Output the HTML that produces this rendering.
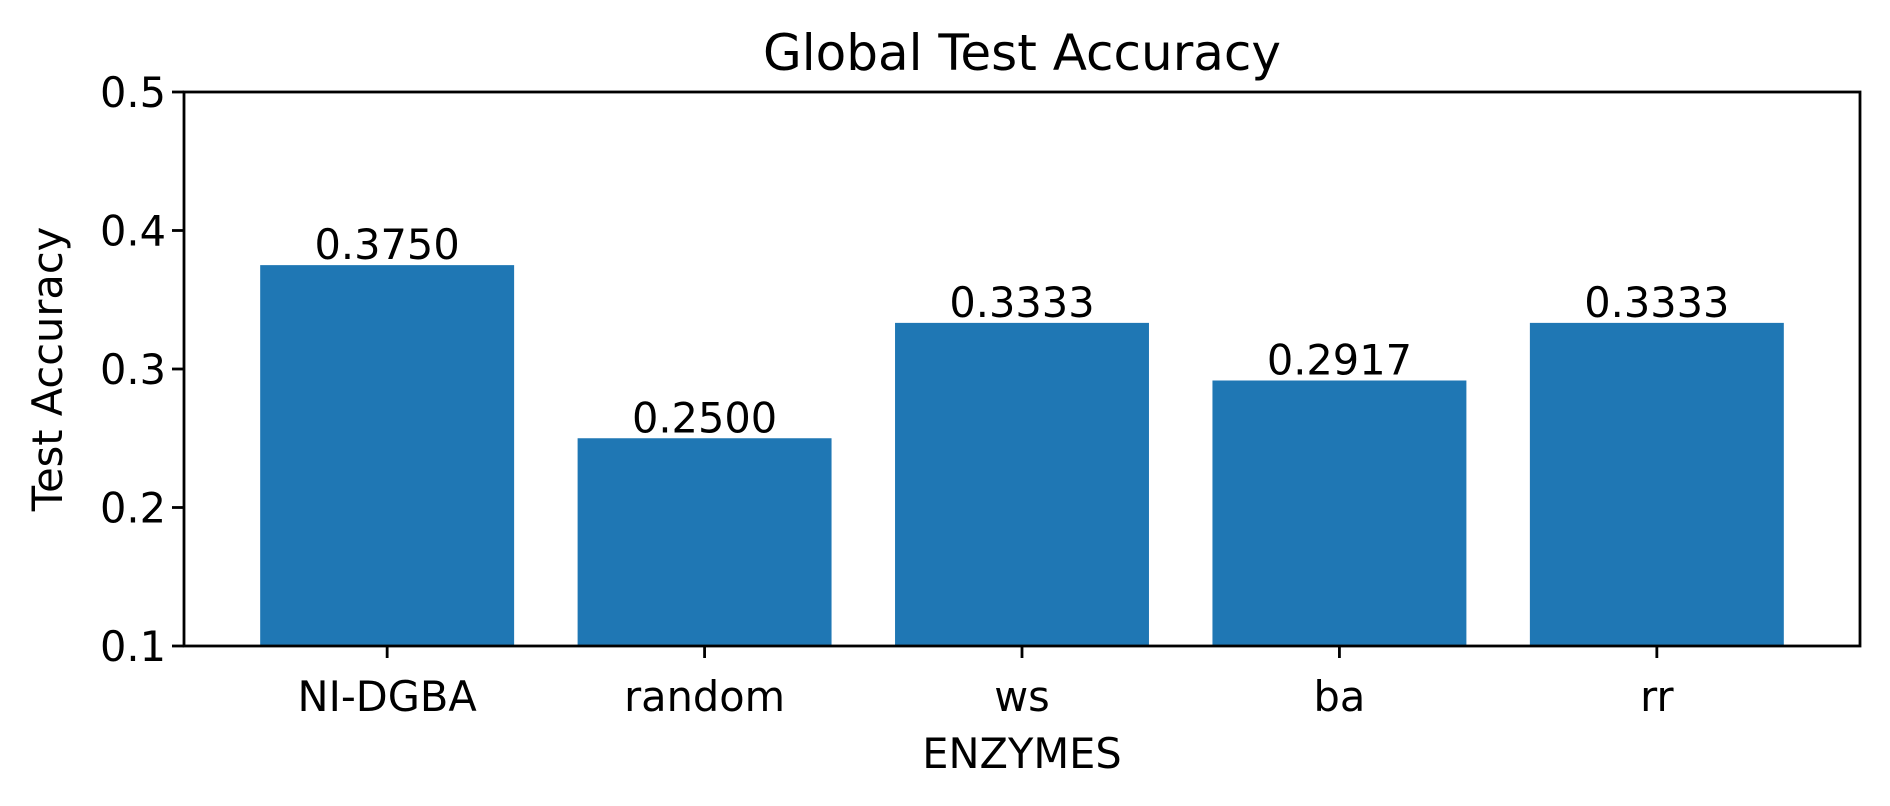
<!DOCTYPE html>
<html><head><meta charset="utf-8"><style>body{margin:0;background:#fff}svg{display:block}text{font-family:"DejaVu Sans","Liberation Sans",sans-serif;fill:#000}</style></head>
<body>
<svg id="chart" width="1890" height="806" viewBox="0 0 1890 806" xmlns="http://www.w3.org/2000/svg"></svg>
<script>
const categories = ["NI-DGBA","random","ws","ba","rr"];
const values = [0.3750,0.2500,0.3333,0.2917,0.3333];
const valueLabels = ["0.3750","0.2500","0.3333","0.2917","0.3333"];
const yTicks = [0.1,0.2,0.3,0.4,0.5];
const yTickLabels = ["0.1","0.2","0.3","0.4","0.5"];

const L=184,R=1860,T=92,B=646;
const xMin=-0.64,xMax=4.64,yMin=0.1,yMax=0.5;
const FS=41.5, TFS=50;
const sx=v=>L+(v-xMin)/(xMax-xMin)*(R-L);
const sy=v=>B-(v-yMin)/(yMax-yMin)*(B-T);
const svg=document.getElementById('chart');
const NS="http://www.w3.org/2000/svg";
function mk(tag,attrs,txt){const e=document.createElementNS(NS,tag);for(const k in attrs)e.setAttribute(k,attrs[k]);if(txt!==undefined)e.textContent=txt;svg.appendChild(e);return e;}

categories.forEach((c,i)=>{
  const x0=sx(i-0.4),x1=sx(i+0.4);
  const r=mk('rect',{x:x0,y:sy(values[i]),width:x1-x0,height:B-sy(values[i]),fill:'#1f77b4'});
  
  
  const t=mk('text',{x:sx(i),y:sy(values[i])-6,'text-anchor':'middle','font-size':FS},valueLabels[i]);
  
  
  const tk=mk('line',{x1:sx(i),x2:sx(i),y1:B,y2:B+12,stroke:'#000','stroke-width':2.8});
  
  
  const tl=mk('text',{x:sx(i),y:711,'text-anchor':'middle','font-size':FS},c);
  
  
});
yTicks.forEach((v,i)=>{
  const tk=mk('line',{x1:L-12,x2:L,y1:sy(v),y2:sy(v),stroke:'#000','stroke-width':2.8});
  
  
  const tl=mk('text',{x:L-18,y:sy(v)+15,'text-anchor':'end','font-size':FS},yTickLabels[i]);
  
  
});
const fr=mk('rect',{x:L,y:T,width:R-L,height:B-T,fill:'none',stroke:'#000','stroke-width':2.8});


const ti=mk('text',{x:(L+R)/2,y:70,'text-anchor':'middle','font-size':TFS},'Global Test Accuracy');


const xl=mk('text',{x:(L+R)/2,y:768,'text-anchor':'middle','font-size':FS},'ENZYMES');


const yl=mk('text',{x:0,y:0,'text-anchor':'middle','font-size':FS,transform:'translate(62,'+((T+B)/2)+') rotate(-90)'},'Test Accuracy');


</script>
</body></html>
